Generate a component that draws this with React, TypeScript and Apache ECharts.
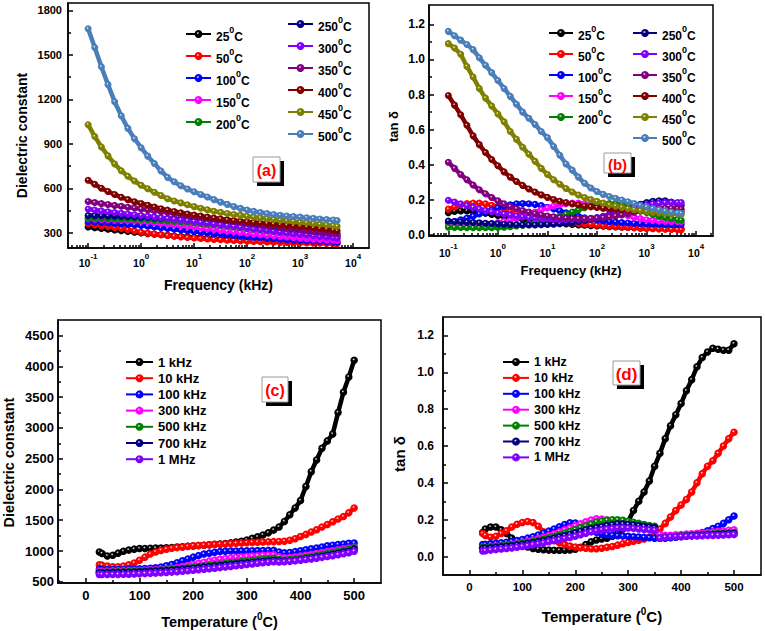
import { useEffect, useRef } from "react";
import * as echarts from "echarts";

const FONT = '"Liberation Sans", Arial, sans-serif';

// ---------- (a), (b): frequency sweeps at fixed temperature ----------
const FREQ_KHZ = [
  0.1, 0.1334, 0.1778, 0.2371, 0.3162, 0.4217, 0.5623, 0.7499, 1,
  1.334, 1.778, 2.371, 3.162, 4.217, 5.623, 7.499, 10,
  13.34, 17.78, 23.71, 31.62, 42.17, 56.23, 74.99, 100,
  133.4, 177.8, 237.1, 316.2, 421.7, 562.3, 749.9, 1000,
  1334, 1778, 2371, 3162, 4217, 5000,
];

const TEMP_NAMES = ["25", "50", "100", "150", "200", "250", "300", "350", "400", "450", "500"];
const TEMP_COLORS = [
  "#000000", "#ff0000", "#0000ff", "#ff00ff", "#008000", "#000080",
  "#8000ff", "#800080", "#800000", "#808000", "#4a7ebb",
];

// dielectric constant vs frequency
const EPS_F_25 = [340, 335, 330, 326, 321, 316, 311, 305, 300, 296, 292, 288, 284, 280, 277, 274, 271, 268, 265, 262, 260, 257, 255, 253, 251, 249, 247, 246, 244, 243, 241, 240, 239, 238, 237, 236, 235, 234, 233];
const EPS_F_50 = [362, 355, 348, 342, 336, 330, 322, 313, 305, 299, 293, 288, 283, 278, 274, 270, 266, 263, 260, 257, 254, 251, 249, 247, 245, 243, 241, 240, 238, 237, 236, 235, 234, 233, 232, 231, 230, 229, 228];
const EPS_F_100 = [378, 375, 371, 368, 364, 361, 357, 354, 350, 345, 340, 335, 330, 325, 320, 315, 310, 305, 301, 296, 292, 288, 284, 279, 275, 271, 268, 264, 261, 258, 255, 252, 250, 248, 246, 244, 242, 241, 240];
const EPS_F_150 = [395, 393, 391, 390, 388, 386, 384, 382, 380, 376, 371, 366, 361, 356, 350, 345, 340, 335, 329, 324, 319, 313, 308, 303, 298, 294, 289, 285, 281, 277, 273, 269, 265, 262, 259, 256, 253, 251, 249];
const EPS_F_200 = [400, 399, 398, 397, 396, 395, 394, 393, 392, 390, 387, 384, 381, 378, 375, 372, 368, 364, 359, 355, 350, 345, 340, 335, 330, 325, 320, 315, 310, 305, 300, 296, 292, 288, 284, 280, 276, 272, 269];
const EPS_F_250 = [418, 417, 416, 414, 413, 411, 410, 408, 406, 404, 402, 400, 398, 396, 394, 392, 389, 386, 382, 378, 373, 368, 363, 358, 353, 347, 341, 335, 329, 323, 317, 311, 306, 301, 297, 293, 289, 286, 284];
const EPS_F_300 = [462, 455, 449, 443, 438, 433, 428, 423, 418, 413, 408, 403, 398, 393, 388, 383, 378, 372, 367, 361, 356, 350, 345, 339, 334, 328, 323, 317, 312, 306, 301, 296, 291, 286, 281, 276, 272, 268, 265];
const EPS_F_350 = [512, 505, 498, 492, 486, 480, 474, 468, 462, 456, 450, 444, 438, 432, 426, 420, 414, 408, 402, 396, 390, 384, 378, 372, 366, 360, 354, 348, 342, 336, 331, 326, 321, 316, 311, 306, 301, 297, 294];
const EPS_F_400 = [656, 628, 602, 580, 560, 541, 525, 511, 499, 487, 475, 464, 454, 445, 436, 428, 421, 414, 407, 401, 395, 389, 384, 379, 375, 371, 367, 363, 359, 355, 351, 347, 343, 339, 334, 329, 324, 319, 315];
const EPS_F_450 = [1030, 950, 880, 820, 765, 720, 682, 650, 622, 598, 575, 553, 531, 516, 503, 490, 478, 467, 457, 447, 439, 432, 425, 419, 413, 407, 402, 397, 392, 387, 382, 378, 373, 369, 364, 359, 354, 349, 345];
const EPS_F_500 = [1676, 1550, 1420, 1300, 1185, 1090, 1005, 935, 875, 818, 768, 718, 675, 645, 618, 596, 578, 560, 543, 525, 508, 493, 478, 466, 455, 446, 438, 431, 425, 420, 415, 411, 407, 403, 399, 395, 391, 387, 384];

// loss tangent vs frequency
const TAN_F_25 = [0.128, 0.135, 0.138, 0.138, 0.135, 0.13, 0.124, 0.118, 0.112, 0.106, 0.1, 0.095, 0.09, 0.085, 0.081, 0.077, 0.073, 0.07, 0.067, 0.064, 0.061, 0.058, 0.056, 0.054, 0.052, 0.05, 0.048, 0.046, 0.045, 0.043, 0.042, 0.04, 0.039, 0.038, 0.037, 0.036, 0.035, 0.034, 0.034];
const TAN_F_50 = [0.148, 0.16, 0.172, 0.18, 0.183, 0.182, 0.178, 0.17, 0.16, 0.149, 0.138, 0.127, 0.117, 0.108, 0.1, 0.093, 0.087, 0.082, 0.077, 0.073, 0.069, 0.066, 0.063, 0.06, 0.057, 0.054, 0.051, 0.049, 0.046, 0.044, 0.042, 0.04, 0.038, 0.036, 0.035, 0.033, 0.032, 0.031, 0.03];
const TAN_F_100 = [0.07, 0.078, 0.087, 0.097, 0.108, 0.12, 0.132, 0.144, 0.155, 0.165, 0.173, 0.178, 0.18, 0.179, 0.175, 0.168, 0.159, 0.149, 0.138, 0.127, 0.117, 0.107, 0.099, 0.092, 0.086, 0.081, 0.077, 0.074, 0.071, 0.069, 0.067, 0.065, 0.064, 0.063, 0.062, 0.061, 0.06, 0.06, 0.06];
const TAN_F_150 = [0.05, 0.05, 0.051, 0.052, 0.054, 0.057, 0.06, 0.065, 0.071, 0.078, 0.087, 0.097, 0.108, 0.12, 0.132, 0.144, 0.155, 0.165, 0.173, 0.179, 0.182, 0.182, 0.178, 0.172, 0.163, 0.153, 0.142, 0.131, 0.12, 0.11, 0.101, 0.094, 0.088, 0.084, 0.081, 0.079, 0.078, 0.078, 0.078];
const TAN_F_200 = [0.045, 0.044, 0.043, 0.042, 0.042, 0.042, 0.042, 0.042, 0.043, 0.045, 0.048, 0.052, 0.057, 0.063, 0.07, 0.078, 0.087, 0.097, 0.108, 0.12, 0.132, 0.144, 0.156, 0.166, 0.174, 0.179, 0.18, 0.177, 0.171, 0.162, 0.151, 0.14, 0.129, 0.118, 0.108, 0.1, 0.093, 0.088, 0.085];
const TAN_F_250 = [0.08, 0.078, 0.076, 0.074, 0.072, 0.07, 0.068, 0.066, 0.064, 0.062, 0.06, 0.059, 0.058, 0.058, 0.058, 0.059, 0.06, 0.062, 0.065, 0.068, 0.072, 0.077, 0.083, 0.09, 0.098, 0.107, 0.117, 0.128, 0.14, 0.152, 0.164, 0.176, 0.186, 0.193, 0.196, 0.195, 0.188, 0.178, 0.17];
const TAN_F_300 = [0.198, 0.188, 0.178, 0.168, 0.158, 0.149, 0.141, 0.133, 0.126, 0.12, 0.114, 0.109, 0.104, 0.1, 0.097, 0.094, 0.092, 0.09, 0.089, 0.089, 0.09, 0.091, 0.093, 0.096, 0.1, 0.106, 0.113, 0.122, 0.132, 0.143, 0.155, 0.165, 0.172, 0.178, 0.182, 0.185, 0.186, 0.186, 0.186];
const TAN_F_350 = [0.415, 0.38, 0.345, 0.315, 0.285, 0.258, 0.235, 0.214, 0.195, 0.178, 0.163, 0.151, 0.14, 0.131, 0.122, 0.115, 0.109, 0.104, 0.1, 0.097, 0.095, 0.094, 0.094, 0.095, 0.097, 0.1, 0.104, 0.109, 0.115, 0.122, 0.13, 0.138, 0.145, 0.15, 0.153, 0.154, 0.153, 0.15, 0.148];
const TAN_F_400 = [0.795, 0.74, 0.685, 0.625, 0.565, 0.515, 0.47, 0.43, 0.395, 0.36, 0.33, 0.305, 0.283, 0.263, 0.245, 0.229, 0.215, 0.203, 0.193, 0.185, 0.178, 0.172, 0.166, 0.161, 0.157, 0.153, 0.15, 0.147, 0.144, 0.142, 0.14, 0.138, 0.137, 0.136, 0.135, 0.134, 0.133, 0.132, 0.132];
const TAN_F_450 = [1.09, 1.065, 1.03, 0.96, 0.9, 0.835, 0.78, 0.735, 0.69, 0.645, 0.59, 0.545, 0.5, 0.46, 0.42, 0.38, 0.345, 0.315, 0.29, 0.265, 0.245, 0.228, 0.214, 0.202, 0.192, 0.182, 0.173, 0.165, 0.158, 0.151, 0.145, 0.14, 0.135, 0.131, 0.128, 0.125, 0.122, 0.12, 0.118];
const TAN_F_500 = [1.16, 1.135, 1.11, 1.085, 1.056, 1.01, 0.967, 0.925, 0.88, 0.835, 0.79, 0.745, 0.7, 0.665, 0.63, 0.59, 0.555, 0.505, 0.455, 0.405, 0.37, 0.33, 0.295, 0.268, 0.248, 0.232, 0.22, 0.21, 0.2, 0.19, 0.18, 0.17, 0.16, 0.152, 0.145, 0.138, 0.132, 0.127, 0.124];

const EPS_BY_TEMP = [EPS_F_25, EPS_F_50, EPS_F_100, EPS_F_150, EPS_F_200, EPS_F_250, EPS_F_300, EPS_F_350, EPS_F_400, EPS_F_450, EPS_F_500];
const TAN_BY_TEMP = [TAN_F_25, TAN_F_50, TAN_F_100, TAN_F_150, TAN_F_200, TAN_F_250, TAN_F_300, TAN_F_350, TAN_F_400, TAN_F_450, TAN_F_500];

// ---------- (c), (d): temperature sweeps at fixed frequency ----------
const TEMP_C = [
  25, 30, 40, 50, 60, 70, 80, 90, 100, 110,
  120, 130, 140, 150, 160, 170, 180, 190, 200, 210,
  220, 230, 240, 250, 260, 270, 280, 290, 300, 310,
  320, 330, 340, 350, 360, 370, 380, 390, 400, 410,
  420, 430, 440, 450, 460, 470, 480, 490, 500,
];

const FREQ_NAMES = ["1 kHz", "10 kHz", "100 kHz", "300 kHz", "500 kHz", "700 kHz", "1 MHz"];
const FREQ_COLORS = ["#000000", "#ff0000", "#0000ff", "#ff00ff", "#008000", "#000080", "#8000ff"];

const EPS_T_1K = [985, 960, 920, 930, 965, 995, 1015, 1030, 1040, 1042, 1045, 1047, 1050, 1052, 1058, 1064, 1070, 1076, 1082, 1088, 1095, 1102, 1108, 1115, 1123, 1132, 1145, 1160, 1180, 1205, 1230, 1260, 1295, 1340, 1390, 1480, 1590, 1700, 1820, 2050, 2290, 2480, 2670, 2790, 2900, 3250, 3580, 3830, 4100];
const EPS_T_10K = [775, 770, 755, 745, 745, 755, 775, 805, 850, 900, 950, 985, 1010, 1030, 1045, 1055, 1065, 1075, 1085, 1090, 1095, 1100, 1105, 1110, 1115, 1120, 1125, 1130, 1135, 1140, 1143, 1146, 1150, 1152, 1155, 1160, 1175, 1200, 1235, 1270, 1310, 1345, 1390, 1430, 1475, 1520, 1560, 1620, 1700];
const EPS_T_100K = [705, 700, 698, 698, 699, 700, 702, 705, 710, 714, 720, 728, 740, 760, 780, 810, 840, 870, 900, 925, 950, 965, 980, 990, 995, 1000, 1000, 1002, 1005, 1005, 1007, 1008, 1010, 1010, 985, 970, 975, 990, 1005, 1020, 1035, 1050, 1065, 1085, 1095, 1105, 1115, 1125, 1130];
const EPS_T_300K = [670, 672, 675, 677, 679, 681, 683, 685, 688, 691, 694, 698, 703, 710, 720, 732, 747, 764, 782, 800, 818, 836, 852, 866, 878, 888, 896, 903, 910, 917, 924, 930, 936, 940, 905, 890, 895, 905, 918, 930, 945, 960, 975, 990, 1005, 1020, 1035, 1050, 1065];
const EPS_T_500K = [655, 656, 658, 660, 662, 664, 667, 670, 673, 677, 681, 686, 691, 697, 704, 711, 719, 728, 738, 748, 758, 768, 778, 788, 798, 808, 818, 828, 838, 848, 857, 866, 875, 882, 860, 855, 862, 872, 884, 897, 911, 926, 942, 958, 975, 992, 1010, 1030, 1055];
const EPS_T_700K = [645, 646, 648, 650, 652, 654, 656, 659, 662, 665, 669, 673, 678, 683, 689, 696, 703, 711, 720, 729, 738, 747, 756, 765, 774, 783, 792, 801, 810, 818, 826, 834, 842, 850, 840, 835, 840, 850, 862, 874, 887, 901, 916, 931, 947, 964, 982, 1001, 1030];
const EPS_T_1M = [620, 618, 618, 619, 620, 622, 624, 627, 630, 633, 637, 641, 646, 651, 657, 663, 670, 678, 686, 694, 703, 712, 721, 730, 740, 750, 760, 770, 780, 790, 800, 809, 818, 826, 822, 825, 832, 840, 850, 861, 872, 884, 897, 910, 924, 939, 955, 972, 995];

const TAN_T_1K = [0.13, 0.15, 0.16, 0.16, 0.145, 0.125, 0.1, 0.08, 0.065, 0.052, 0.044, 0.04, 0.037, 0.035, 0.034, 0.034, 0.034, 0.036, 0.04, 0.05, 0.065, 0.08, 0.09, 0.095, 0.1, 0.11, 0.125, 0.15, 0.19, 0.25, 0.3, 0.35, 0.41, 0.49, 0.56, 0.64, 0.71, 0.77, 0.83, 0.9, 0.96, 1.03, 1.08, 1.11, 1.13, 1.125, 1.12, 1.12, 1.155];
const TAN_T_10K = [0.125, 0.115, 0.105, 0.11, 0.125, 0.14, 0.16, 0.175, 0.185, 0.19, 0.185, 0.165, 0.135, 0.11, 0.09, 0.075, 0.065, 0.057, 0.052, 0.048, 0.045, 0.043, 0.042, 0.045, 0.05, 0.055, 0.062, 0.07, 0.077, 0.083, 0.088, 0.095, 0.105, 0.12, 0.15, 0.18, 0.215, 0.25, 0.28, 0.31, 0.35, 0.4, 0.45, 0.49, 0.52, 0.56, 0.6, 0.64, 0.675];
const TAN_T_100K = [0.065, 0.066, 0.069, 0.072, 0.075, 0.078, 0.082, 0.087, 0.093, 0.1, 0.108, 0.117, 0.127, 0.138, 0.15, 0.162, 0.174, 0.183, 0.182, 0.172, 0.16, 0.145, 0.132, 0.123, 0.118, 0.115, 0.113, 0.111, 0.11, 0.108, 0.106, 0.104, 0.102, 0.1, 0.1, 0.1, 0.102, 0.105, 0.108, 0.112, 0.117, 0.123, 0.13, 0.14, 0.152, 0.165, 0.18, 0.2, 0.22];
const TAN_T_300K = [0.05, 0.051, 0.054, 0.057, 0.06, 0.063, 0.067, 0.072, 0.077, 0.083, 0.09, 0.098, 0.106, 0.115, 0.124, 0.134, 0.145, 0.156, 0.167, 0.178, 0.189, 0.198, 0.205, 0.203, 0.2, 0.196, 0.19, 0.183, 0.176, 0.17, 0.165, 0.161, 0.158, 0.155, 0.12, 0.115, 0.116, 0.118, 0.12, 0.122, 0.124, 0.126, 0.128, 0.131, 0.134, 0.137, 0.14, 0.143, 0.146];
const TAN_T_500K = [0.05, 0.051, 0.053, 0.055, 0.058, 0.061, 0.064, 0.068, 0.072, 0.077, 0.082, 0.088, 0.095, 0.102, 0.11, 0.118, 0.127, 0.136, 0.146, 0.156, 0.166, 0.176, 0.188, 0.193, 0.197, 0.2, 0.2, 0.197, 0.192, 0.186, 0.18, 0.174, 0.169, 0.165, 0.1, 0.105, 0.108, 0.11, 0.112, 0.114, 0.116, 0.118, 0.12, 0.122, 0.124, 0.126, 0.128, 0.129, 0.13];
const TAN_T_700K = [0.045, 0.046, 0.048, 0.05, 0.053, 0.056, 0.059, 0.063, 0.067, 0.071, 0.076, 0.081, 0.087, 0.093, 0.1, 0.107, 0.114, 0.121, 0.129, 0.137, 0.145, 0.152, 0.158, 0.163, 0.168, 0.173, 0.178, 0.177, 0.175, 0.172, 0.168, 0.164, 0.16, 0.157, 0.1, 0.104, 0.106, 0.108, 0.11, 0.112, 0.114, 0.116, 0.117, 0.118, 0.12, 0.121, 0.123, 0.124, 0.125];
const TAN_T_1M = [0.03, 0.032, 0.035, 0.038, 0.041, 0.044, 0.047, 0.051, 0.055, 0.059, 0.064, 0.069, 0.074, 0.08, 0.086, 0.092, 0.098, 0.104, 0.11, 0.118, 0.126, 0.134, 0.14, 0.145, 0.149, 0.152, 0.155, 0.156, 0.155, 0.153, 0.15, 0.147, 0.145, 0.143, 0.1, 0.105, 0.107, 0.108, 0.109, 0.11, 0.111, 0.112, 0.113, 0.114, 0.115, 0.116, 0.117, 0.118, 0.12];

const EPS_BY_FREQ = [EPS_T_1K, EPS_T_10K, EPS_T_100K, EPS_T_300K, EPS_T_500K, EPS_T_700K, EPS_T_1M];
const TAN_BY_FREQ = [TAN_T_1K, TAN_T_10K, TAN_T_100K, TAN_T_300K, TAN_T_500K, TAN_T_700K, TAN_T_1M];

// ---------- helpers ----------
const ball = (c: string) =>
  new echarts.graphic.RadialGradient(0.42, 0.38, 0.62, [
    { offset: 0, color: "#ffffff" },
    { offset: 0.3, color: c },
    { offset: 1, color: c },
  ]);

function lineSeries(name: string, color: string, xs: number[], ys: number[], panel: number, size: number) {
  return {
    type: "line",
    name,
    xAxisIndex: panel * 2,
    yAxisIndex: panel * 2,
    data: xs.map((x, i) => [x, ys[i]]),
    symbol: "circle",
    symbolSize: size,
    showSymbol: true,
    lineStyle: { color, width: 4.5 },
    itemStyle: { color: ball(color) },
    emphasis: { disabled: true },
    silent: true,
  };
}

const txt = (size: number) => ({ color: "#000", fontWeight: "bold", fontFamily: FONT, fontSize: size });

const supRich = (base: number, sup: number, lh: number) => ({
  b: { ...txt(base), lineHeight: lh, verticalAlign: "bottom" },
  s: { ...txt(sup), lineHeight: sup, verticalAlign: "top" },
});

type AxisSpec = {
  grid: number;
  dim: "x" | "y";
  min: number;
  max: number;
  major: number[];
  minor: number[];
  fmt: (v: number) => string;
  font: number;
  margin: number;
  rich?: any;
  name: string;
  nameGap: number;
  nameStyle: any;
};

function axisPair(s: AxisSpec) {
  const position = s.dim === "x" ? "bottom" : "left";
  const tickLine = { color: "#000", width: 1.5 };
  return [
    {
      type: "value",
      gridIndex: s.grid,
      position,
      min: s.min,
      max: s.max,
      axisLine: { show: true, onZero: false, lineStyle: tickLine },
      axisTick: { show: true, inside: true, length: 5, lineStyle: tickLine, customValues: s.major },
      axisLabel: { customValues: s.major, formatter: s.fmt, margin: s.margin, ...txt(s.font), rich: s.rich },
      splitLine: { show: false },
      name: s.name,
      nameLocation: "middle",
      nameGap: s.nameGap,
      nameTextStyle: s.nameStyle,
    },
    {
      type: "value",
      gridIndex: s.grid,
      position,
      min: s.min,
      max: s.max,
      axisLine: { show: false, onZero: false },
      axisTick: { show: true, inside: true, length: 3, lineStyle: tickLine, customValues: s.minor },
      axisLabel: { show: false },
      splitLine: { show: false },
    },
  ];
}

const range = (a: number, b: number, step: number) => {
  const out: number[] = [];
  for (let v = a; v <= b + 1e-9; v += step) out.push(Math.round(v * 1000) / 1000);
  return out;
};

const logMinor = (lo: number, hi: number) => {
  const out: number[] = [];
  for (let n = -2; n <= 4; n++)
    for (let k = 2; k <= 9; k++) {
      const v = n + Math.log10(k);
      if (v > lo && v < hi) out.push(v);
    }
  return out;
};

const decadeLabel = (v: number) => `{b|10}{s|${Math.round(v)}}`;

const tempLegendRich = {
  n: { ...txt(12), lineHeight: 18, verticalAlign: "bottom" },
  s: { ...txt(9), lineHeight: 9, verticalAlign: "top" },
};

function tempLegend(names: string[], left: number, top: number, itemWidth: number, gap: number) {
  return {
    orient: "vertical",
    left,
    top,
    padding: 0,
    itemGap: gap,
    itemWidth,
    itemHeight: 10,
    selectedMode: false,
    data: names,
    lineStyle: { width: 2 },
    formatter: (n: string) => `{n|${n}}{s|0}{n|C}`,
    textStyle: { ...txt(12), rich: tempLegendRich },
  };
}

function freqLegend(left: number, top: number, itemWidth: number, gap: number, size: number) {
  return {
    orient: "vertical",
    left,
    top,
    padding: 0,
    itemGap: gap,
    itemWidth,
    itemHeight: 10,
    selectedMode: false,
    data: FREQ_NAMES,
    lineStyle: { width: 2 },
    textStyle: { ...txt(size), lineHeight: 15 },
  };
}

function panelTag(label: string, x: number, y: number, w: number, h: number, size: number) {
  return {
    type: "group",
    children: [
      { type: "rect", shape: { x: x + 4, y: y + 4, width: w, height: h }, style: { fill: "#000" } },
      { type: "rect", shape: { x, y, width: w, height: h }, style: { fill: "#fff", stroke: "#9a9a9a", lineWidth: 1 } },
      {
        type: "text",
        x: x + w / 2,
        y: y + h / 2 + 1,
        style: { text: label, fill: "#ff0000", fontSize: size, fontWeight: "bold", fontFamily: FONT, align: "center", verticalAlign: "middle" },
      },
    ],
  };
}

const tempTitle = (size: number) => ({
  rich: {
    t: { ...txt(size), lineHeight: 18, verticalAlign: "bottom" },
    s: { ...txt(10), lineHeight: 10, verticalAlign: "top" },
  },
});

// rotated y-axis titles sit a little below the middle of their axis
const yTitle = (size: number, shift: number) => ({ ...txt(size), padding: [0, shift * 2, 0, 0] });

function buildOption() {
  const logF = FREQ_KHZ.map((f) => Math.log10(f));
  const grids = [
    { left: 68, top: 3, width: 301, height: 245 },
    { left: 429, top: 5, width: 284, height: 231 },
    { left: 58, top: 320, width: 323, height: 263 },
    { left: 443, top: 317, width: 318, height: 258 },
  ].map((g) => ({ ...g, show: true, borderColor: "#000", borderWidth: 1.5, outerBoundsMode: "none", containLabel: false }));

  const xAxes = [
    ...axisPair({
      grid: 0, dim: "x", min: -1.38, max: 4.3, major: [-1, 0, 1, 2, 3, 4], minor: logMinor(-1.38, 4.3),
      fmt: decadeLabel, font: 10.5, margin: 4, rich: supRich(10.5, 8, 16),
      name: "Frequency (kHz)", nameGap: 30, nameStyle: txt(14),
    }),
    ...axisPair({
      grid: 1, dim: "x", min: -1.39, max: 4.34, major: [-1, 0, 1, 2, 3, 4], minor: logMinor(-1.39, 4.34),
      fmt: decadeLabel, font: 10.5, margin: 6, rich: supRich(10.5, 8, 16),
      name: "Frequency (kHz)", nameGap: 28, nameStyle: txt(13),
    }),
    ...axisPair({
      grid: 2, dim: "x", min: -52, max: 550, major: range(0, 500, 100), minor: range(-50, 500, 100),
      fmt: (v) => String(v), font: 13, margin: 6,
      name: "{t|Temperature (}{s|0}{t|C)}", nameGap: 28, nameStyle: tempTitle(14.5),
    }),
    ...axisPair({
      grid: 3, dim: "x", min: -50, max: 551, major: range(0, 500, 100), minor: range(50, 450, 100),
      fmt: (v) => String(v), font: 11.5, margin: 6,
      name: "{t|Temperature (}{s|0}{t|C)}", nameGap: 31, nameStyle: tempTitle(15),
    }),
  ];

  const yAxes = [
    ...axisPair({
      grid: 0, dim: "y", min: 199, max: 1850, major: range(300, 1800, 300), minor: range(450, 1650, 300),
      fmt: (v) => String(v), font: 11, margin: 6,
      name: "Dielectric constant", nameGap: 39, nameStyle: yTitle(14, 10),
    }),
    ...axisPair({
      grid: 1, dim: "y", min: -0.005, max: 1.31, major: range(0, 1.2, 0.2), minor: range(0.1, 1.1, 0.2),
      fmt: (v) => v.toFixed(1), font: 12, margin: 4,
      name: "tan δ", nameGap: 29, nameStyle: yTitle(13, 6),
    }),
    ...axisPair({
      grid: 2, dim: "y", min: 480, max: 4755, major: range(500, 4500, 500), minor: range(750, 4250, 500),
      fmt: (v) => String(v), font: 13, margin: 4,
      name: "Dielectric constant", nameGap: 42, nameStyle: yTitle(14.5, 11),
    }),
    ...axisPair({
      grid: 3, dim: "y", min: -0.1, max: 1.3, major: range(0, 1.2, 0.2), minor: range(0.1, 1.1, 0.2),
      fmt: (v) => v.toFixed(1), font: 12, margin: 9,
      name: "tan δ", nameGap: 36, nameStyle: yTitle(15, 8),
    }),
  ];

  const series: any[] = [];
  TEMP_NAMES.forEach((n, i) => series.push(lineSeries(n, TEMP_COLORS[i], logF, EPS_BY_TEMP[i], 0, 7)));
  TEMP_NAMES.forEach((n, i) => series.push(lineSeries(n, TEMP_COLORS[i], logF, TAN_BY_TEMP[i], 1, 7)));
  FREQ_NAMES.forEach((n, i) => series.push(lineSeries(n, FREQ_COLORS[i], TEMP_C, EPS_BY_FREQ[i], 2, 7.5)));
  FREQ_NAMES.forEach((n, i) => series.push(lineSeries(n, FREQ_COLORS[i], TEMP_C, TAN_BY_FREQ[i], 3, 7.5)));

  return {
    animation: false,
    backgroundColor: "#ffffff",
    grid: grids,
    xAxis: xAxes,
    yAxis: yAxes,
    legend: [
      tempLegend(TEMP_NAMES.slice(0, 5), 185, 25, 25, 4),
      tempLegend(TEMP_NAMES.slice(5), 287, 15, 25, 4),
      tempLegend(TEMP_NAMES.slice(0, 5), 548, 24, 24, 3),
      tempLegend(TEMP_NAMES.slice(5), 632, 24, 24, 3),
      freqLegend(125, 354.5, 27, 1.2, 13),
      freqLegend(502, 354.5, 26, 0.9, 12.5),
    ],
    graphic: {
      elements: [
        panelTag("(a)", 253, 157, 27, 25, 16),
        panelTag("(b)", 604, 153, 27, 20, 15),
        panelTag("(c)", 262, 377, 26, 25, 16),
        panelTag("(d)", 613, 361, 27, 24, 17),
      ],
    },
    series,
  };
}

export default function App() {
  const ref = useRef<HTMLDivElement>(null);
  useEffect(() => {
    if (!ref.current) return;
    const chart = echarts.init(ref.current, undefined, { renderer: "svg" });
    chart.setOption(buildOption() as any);
    return () => chart.dispose();
  }, []);
  return (
    <div
      ref={ref}
      style={{ position: "fixed", left: 0, top: 0, width: 765, height: 631, background: "#fff" }}
    />
  );
}
